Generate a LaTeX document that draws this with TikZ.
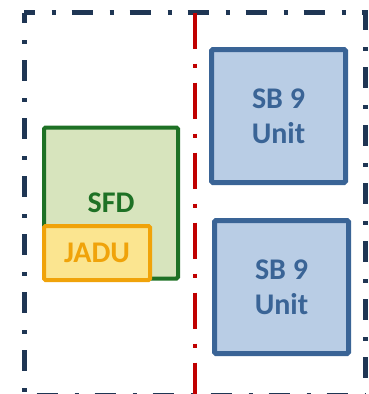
\documentclass[tikz,border=0pt]{standalone}
\usepackage{fontspec}
\setmainfont{Carlito}
\definecolor{framenavy}{HTML}{1F3654}
\definecolor{lotred}{HTML}{C00000}
\definecolor{sfdgreen}{HTML}{1E7125}
\definecolor{sfdfill}{HTML}{D7E4BD}
\definecolor{jaduorange}{HTML}{F0A30A}
\definecolor{jadufill}{HTML}{FBE590}
\definecolor{unitblue}{HTML}{3A6496}
\definecolor{unitfill}{HTML}{B9CDE5}
\begin{document}
\begin{tikzpicture}[x=1pt, y=-1pt,
    box/.style={draw, rounded corners=1.5pt, inner sep=0pt, align=center,
                font=\fontsize{30}{35}\selectfont\bfseries},
    lotline/.style={framenavy, line width=5pt,
                    dash pattern=on 21pt off 17pt on 4pt off 16pt, dash phase=10.5pt},
    unitbox/.style={box, line width=5pt, draw=unitblue, fill=unitfill, text=unitblue,
                    minimum width=134pt, minimum height=133pt}]
    \useasboundingbox (0,0) rectangle (368,394);

    % lot boundary, dash-dot, both runs start at the top left corner
    \draw[lotline] (24,12.5) -- (24,395.5) -- (365,395.5);
    \draw[lotline] (24,12.5) -- (365,12.5) -- (365,395.5);

    % lot split line
    \draw[lotred, line width=4pt, dash pattern=on 36pt off 15pt on 4pt off 15pt]
        (195,12.5) -- (195,396);

    % main house with the junior unit inside
    \node[box, line width=4pt, draw=sfdgreen, fill=sfdfill, text=sfdgreen,
          minimum width=134pt, minimum height=151pt] (sfd) at (111,203) {SFD};
    \node[box, line width=4pt, draw=jaduorange, fill=jadufill, text=jaduorange,
          minimum width=106pt, minimum height=54pt] (jadu) at (97,253) {JADU};

    % the two new units
    \node[unitbox] (unittop) at (278.5,116) {SB 9\\Unit};
    \node[unitbox] (unitbot) at (281.5,287) {SB 9\\Unit};
\end{tikzpicture}
\end{document}
